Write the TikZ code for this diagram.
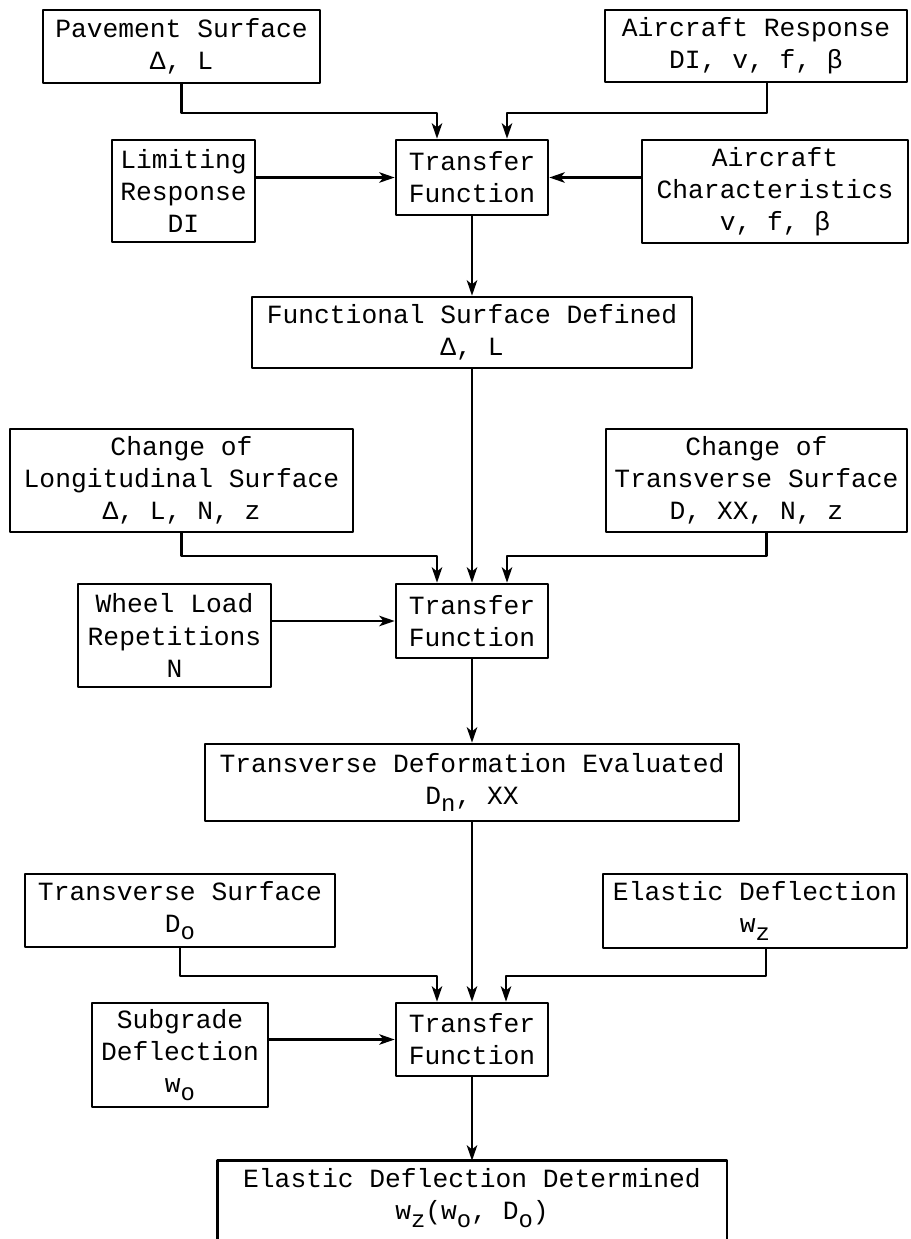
\documentclass[tikz,border=0pt]{standalone}
\usepackage{fontspec}
\newfontfamily\typew{Liberation Mono}
\usetikzlibrary{arrows.meta, calc}
\newcommand{\lo}[1]{\raisebox{-0.55ex}{\fontsize{17}{17}\selectfont #1}}

\begin{document}
\begin{tikzpicture}[x=0.025cm, y=-0.025cm, line cap=round, line join=round,
    blk/.style={draw, line width=1.9pt, align=center, inner sep=0pt, font=\typew\fontsize{18.7}{22.8}\selectfont},
    sz/.style 2 args={minimum width=#1*0.025cm, minimum height=#2*0.025cm},
    link/.style={line width=1.5pt, -{Stealth[length=11pt, width=7.5pt, inset=3pt]}}]
      \useasboundingbox (0,0) rectangle (910,1239);

      % Functional surface
      \node[blk, sz={277}{73}] (pave) at (181.5,46.5) {Pavement Surface\\Δ, L};
      \node[blk, sz={302}{72}] (resp) at (756,46) {Aircraft Response\\DI, v, f, β};
      \node[blk, sz={143}{102}] (limit) at (183.5,191) {Limiting\\Response\\DI};
      \node[blk, sz={152}{75}] (tf1) at (472,177.5) {Transfer\\Function};
      \node[blk, sz={266}{103}] (char) at (775,191.5) {Aircraft\\Characteristics\\v, f, β};
      \node[blk, sz={440}{71}] (func) at (472,332.5) {Functional Surface Defined\\Δ, L};

      % Transverse deformation
      \node[blk, sz={343}{103}] (long) at (181.5,480.5) {Change of\\Longitudinal Surface\\Δ, L, N, z};
      \node[blk, sz={301}{103}] (trans) at (756.5,480.5) {Change of\\Transverse Surface\\D, XX, N, z};
      \node[blk, sz={193}{103}] (wheel) at (174.5,635.5) {Wheel Load\\Repetitions\\N};
      \node[blk, sz={152}{74}] (tf2) at (472,621) {Transfer\\Function};
      \node[blk, sz={534}{77}] (td) at (472,782.5) {Transverse Deformation Evaluated\\D\lo{n}, XX};

      % Elastic deflection
      \node[blk, sz={310}{73}] (tsurf) at (180,910.5) {Transverse Surface\\D\lo{o}};
      \node[blk, sz={304}{74}] (edef) at (755,911) {Elastic Deflection\\w\lo{z}};
      \node[blk, sz={176}{104}] (sub) at (180,1055) {Subgrade\\Deflection\\w\lo{o}};
      \node[blk, sz={152}{73}] (tf3) at (472,1039.5) {Transfer\\Function};
      \node[blk, draw=none, sz={507}{72}] (final) at (472,1198) {Elastic Deflection Determined\\w\lo{z}(w\lo{o}, D\lo{o})};
      \draw[line width=1.9pt] ([yshift=-12pt]final.south west) |- (final.north) -| ([yshift=-12pt]final.south east);

      % connectors
      \draw[link] (pave.south) -- ++(0,29) -| ([xshift=-0.875cm]tf1.north);
      \draw[link] ([xshift=0.275cm]resp.south) -- ++(0,30) -| ([xshift=0.875cm]tf1.north);
      \draw[link] (limit.east |- tf1.west) -- (tf1.west);
      \draw[link] (char.west |- tf1.east) -- (tf1.east);
      \draw[link] (tf1.south) -- (func.north);

      \draw[link] (func.south) -- (tf2.north);
      \draw[link] (long.south) -- ++(0,23) -| ([xshift=-0.875cm]tf2.north);
      \draw[link] ([xshift=0.25cm]trans.south) -- ++(0,23) -| ([xshift=0.875cm]tf2.north);
      \draw[link] (wheel.east |- tf2.west) -- (tf2.west);
      \draw[link] (tf2.south) -- (td.north);

      \draw[link] (td.south) -- (tf3.north);
      \draw[link] (tsurf.south) -- ++(0,28) -| ([xshift=-0.875cm]tf3.north);
      \draw[link] ([xshift=0.275cm]edef.south) -- ++(0,27) -| ([xshift=0.85cm]tf3.north);
      \draw[link] (sub.east |- tf3.west) -- (tf3.west);
      \draw[link] (tf3.south) -- (final.north);
    \end{tikzpicture}
\end{document}
